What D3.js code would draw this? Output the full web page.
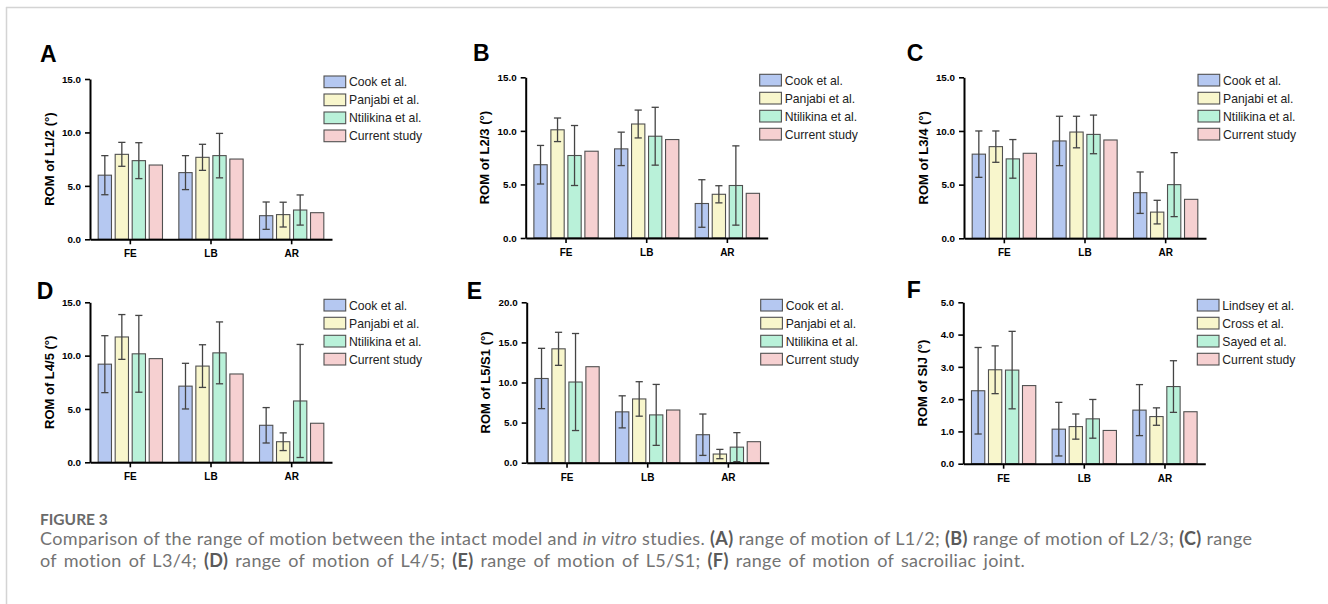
<!DOCTYPE html>
<html><head><meta charset="utf-8">
<script src="https://cdn.jsdelivr.net/npm/d3@7"></script>
<style>body{margin:0;background:#fff} svg{display:block}</style>
</head><body><svg id="c" width="1328" height="604"></svg>
<script>
// ---------------- data ----------------
const categories = ["FE", "LB", "AR"];
const lumbarStudies = ["Cook et al.", "Panjabi et al.", "Ntilikina et al.", "Current study"];
const sijStudies = ["Lindsey et al.", "Cross et al.", "Sayed et al.", "Current study"];
const studyColors = ["#b5c8f1", "#f8f6cc", "#b9f1d9", "#f6d0d1"];

// values per category (FE, LB, AR) then per study; sd null = no error bar
const meanL12 = [[6.0, 7.95, 7.36, 6.95], [6.24, 7.67, 7.83, 7.51], [2.21, 2.31, 2.74, 2.49]];
const sdL12   = [[1.83, 1.12, 1.68, null], [1.59, 1.22, 2.08, null], [1.28, 1.16, 1.41, null]];
const meanL23 = [[6.84, 10.1, 7.7, 8.1], [8.32, 10.64, 9.5, 9.19], [3.22, 4.08, 4.9, 4.17]];
const sdL23   = [[1.8, 1.1, 2.8, null], [1.56, 1.3, 2.7, null], [2.22, 0.8, 3.7, null]];
const meanL34 = [[7.84, 8.54, 7.4, 7.92], [9.07, 9.9, 9.68, 9.16], [4.25, 2.44, 5.0, 3.63]];
const sdL34   = [[2.16, 1.46, 1.8, null], [2.3, 1.47, 1.8, null], [1.93, 1.1, 2.98, null]];
const meanL45 = [[9.2, 11.75, 10.17, 9.72], [7.14, 9.02, 10.26, 8.28], [3.47, 1.93, 5.75, 3.66]];
const sdL45   = [[2.67, 2.1, 3.6, null], [2.14, 2.0, 2.9, null], [1.66, 0.83, 5.3, null]];
const meanL5S1 = [[10.5, 14.2, 10.06, 11.97], [6.34, 7.95, 5.96, 6.57], [3.49, 1.08, 1.94, 2.62]];
const sdL5S1   = [[3.76, 2.06, 6.05, null], [2.0, 2.15, 3.8, null], [2.58, 0.58, 1.81, null]];
const meanSIJ = [[2.26, 2.91, 2.9, 2.42], [1.07, 1.15, 1.39, 1.03], [1.66, 1.46, 2.39, 1.61]];
const sdSIJ   = [[1.34, 0.74, 1.2, null], [0.83, 0.39, 0.6, null], [0.79, 0.27, 0.8, null]];

const ticks15 = [0, 5, 10, 15];
const ticks20 = [0, 5, 10, 15, 20];
const ticks5 = [0, 1, 2, 3, 4, 5];

const panelLetters = ["A", "B", "C", "D", "E", "F"];
const yTitles = ["ROM of L1/2 (°)", "ROM of L2/3 (°)", "ROM of L3/4 (°)", "ROM of L4/5 (°)", "ROM of L5/S1 (°)", "ROM of SIJ (°)"];

const captionTitle = "FIGURE 3";

// ---------------- layout ----------------
const panels = [
  {letter: panelLetters[0], lx: 40,    ly: 62,    x0: 90,    yTop: 79,    yBot: 239.3, mean: meanL12, sd: sdL12, ticks: ticks15, studies: lumbarStudies, title: yTitles[0]},
  {letter: panelLetters[1], lx: 473,   ly: 61,    x0: 525.7, yTop: 77.3,  yBot: 238,   mean: meanL23, sd: sdL23, ticks: ticks15, studies: lumbarStudies, title: yTitles[1]},
  {letter: panelLetters[2], lx: 906.7, ly: 61,    x0: 964,   yTop: 77.3,  yBot: 238.3, mean: meanL34, sd: sdL34, ticks: ticks15, studies: lumbarStudies, title: yTitles[2]},
  {letter: panelLetters[3], lx: 36.7,  ly: 298.5, x0: 90,    yTop: 302.3, yBot: 462.3, mean: meanL45, sd: sdL45, ticks: ticks15, studies: lumbarStudies, title: yTitles[3]},
  {letter: panelLetters[4], lx: 466.7, ly: 298.5, x0: 526.7, yTop: 302.3, yBot: 462.7, mean: meanL5S1, sd: sdL5S1, ticks: ticks20, studies: lumbarStudies, title: yTitles[4]},
  {letter: panelLetters[5], lx: 906.7, ly: 297.5, x0: 963.3, yTop: 302.3, yBot: 463.7, mean: meanSIJ, sd: sdSIJ, ticks: ticks5, studies: sijStudies, title: yTitles[5]}
];

const FONT = "'Liberation Sans', Arial, Helvetica, sans-serif";
const svg = d3.select("#c");
svg.append("rect").attr("width", 1328).attr("height", 604).attr("fill", "#fff");

// frame lines
svg.append("line").attr("x1", 6).attr("x2", 1328).attr("y1", 7.5).attr("y2", 7.5).attr("stroke", "#d4d4d4").attr("stroke-width", 1.5);
svg.append("line").attr("x1", 6.5).attr("x2", 6.5).attr("y1", 7).attr("y2", 604).attr("stroke", "#d4d4d4").attr("stroke-width", 1.5);

const plotW = 242;

panels.forEach(p => {
  const g = svg.append("g").attr("transform", `translate(${p.x0},0)`);
  const x = d3.scaleBand().domain(categories).range([0, plotW]).padding(0);
  const x1 = d3.scaleBand().domain(d3.range(4)).range([0, 64.3]).paddingInner(0.218).paddingOuter(0);
  const yMax = d3.max(p.ticks);
  const y = d3.scaleLinear().domain([0, yMax]).range([p.yBot, p.yTop]);

  // bars
  categories.forEach((c, ci) => {
    const gx = x(c) + x.bandwidth() / 2 - 32.15;
    const cg = g.append("g").attr("transform", `translate(${gx},0)`);
    p.mean[ci].forEach((v, si) => {
      cg.append("rect")
        .attr("x", x1(si)).attr("y", y(v))
        .attr("width", x1.bandwidth()).attr("height", y(0) - y(v))
        .attr("fill", studyColors[si]).attr("stroke", "#505050").attr("stroke-width", 1.1);
    });
    p.mean[ci].forEach((v, si) => {
      const s = p.sd[ci][si];
      if (s == null) return;
      const cx = x1(si) + x1.bandwidth() / 2;
      const hi = y(v + s), lo = y(Math.max(0, v - s));
      const eg = cg.append("g").attr("stroke", "#444").attr("stroke-width", 1.3).attr("fill", "none");
      eg.append("line").attr("x1", cx).attr("x2", cx).attr("y1", hi).attr("y2", lo);
      eg.append("line").attr("x1", cx - 3.6).attr("x2", cx + 3.6).attr("y1", hi).attr("y2", hi);
      eg.append("line").attr("x1", cx - 3.6).attr("x2", cx + 3.6).attr("y1", lo).attr("y2", lo);
    });
  });

  // y axis
  const ya = g.append("g").call(d3.axisLeft(y).tickValues(p.ticks).tickFormat(d3.format(".1f")).tickSize(5).tickSizeOuter(0).tickPadding(4));
  ya.select(".domain").attr("stroke", "#000").attr("stroke-width", 2);
  ya.selectAll(".tick line").attr("stroke", "#000").attr("stroke-width", 1.6);
  ya.selectAll("text").attr("font-family", FONT).attr("font-weight", "bold").attr("font-size", 9.8).attr("fill", "#000");

  // x axis
  const xa = g.append("g").attr("transform", `translate(0,${p.yBot})`)
    .call(d3.axisBottom(x).tickSize(5).tickSizeOuter(0).tickPadding(6));
  xa.select(".domain").attr("stroke", "#000").attr("stroke-width", 2);
  xa.selectAll(".tick line").attr("stroke", "#000").attr("stroke-width", 1.6);
  xa.selectAll("text").attr("font-family", FONT).attr("font-weight", "bold").attr("font-size", 10).attr("fill", "#000");

  // y title
  g.append("text")
    .attr("transform", `translate(-41,${(p.yTop + p.yBot) / 2}) rotate(-90)`)
    .attr("text-anchor", "middle").attr("dominant-baseline", "central")
    .attr("font-family", FONT).attr("font-weight", "bold").attr("font-size", 13).attr("fill", "#000")
    .text(p.title);

  // legend
  const lg = g.append("g").attr("transform", `translate(234,${p.yTop - 3})`);
  p.studies.forEach((name, si) => {
    lg.append("rect").attr("x", 0).attr("y", si * 18).attr("width", 21.7).attr("height", 11.7)
      .attr("fill", studyColors[si]).attr("stroke", "#505050").attr("stroke-width", 1.1);
    lg.append("text").attr("x", 25).attr("y", si * 18 + 10.4)
      .attr("font-family", FONT).attr("font-size", 12.2).attr("fill", "#222").text(name);
  });

  // panel letter
  svg.append("text").attr("x", p.lx).attr("y", p.ly)
    .attr("font-family", FONT).attr("font-weight", "bold").attr("font-size", 23).attr("fill", "#000")
    .text(p.letter);
});

// ---------------- caption ----------------
const CAPFONT = "Lato, 'Open Sans', sans-serif";
svg.append("text").attr("x", 40).attr("y", 524.5)
  .attr("font-family", CAPFONT).attr("font-weight", 700).attr("font-size", 15.5).attr("fill", "#6a6a6a")
  .text(captionTitle);

const line1 = [
  ["Comparison of the range of motion between the intact model and ", "n"],
  ["in vitro", "i"], [" studies. ", "n"], ["(A)", "b"], [" range of motion of L1/2; ", "n"],
  ["(B)", "b"], [" range of motion of L2/3; ", "n"], ["(C)", "b"], [" range", "n"]
];
const line2 = [
  ["of motion of L3/4; ", "n"], ["(D)", "b"], [" range of motion of L4/5; ", "n"],
  ["(E)", "b"], [" range of motion of L5/S1; ", "n"], ["(F)", "b"], [" range of motion of sacroiliac joint.", "n"]
];
const CAPSIZE = 18;
function capLine(parts, yy) {
  const t = svg.append("text").attr("x", 40).attr("y", yy)
    .attr("font-family", CAPFONT).attr("font-size", CAPSIZE).attr("fill", "#737373");
  parts.forEach(([s, k]) => {
    const ts = t.append("tspan").text(s);
    if (k === "i") ts.attr("font-style", "italic");
    if (k === "b") ts.attr("font-weight", 700).attr("fill", "#5a5a5a");
  });
  return t;
}
// first line: widen with letter spacing to the reference width; second line: same spacing, plus looser words
const t1 = capLine(line1, 545);
const s1 = line1.map(d => d[0]).join("");
const w1 = t1.node().getComputedTextLength();
const ls = Math.max(0, (1213 - w1) / (s1.length - 1));
t1.attr("letter-spacing", ls);
const t2 = capLine(line2, 567);
t2.attr("letter-spacing", ls);
const w2 = t2.node().getComputedTextLength();
const n2 = line2.map(d => d[0]).join("").split(" ").length - 1;
if (w2 < 985) t2.attr("word-spacing", (985 - w2) / n2);
</script></body></html>
